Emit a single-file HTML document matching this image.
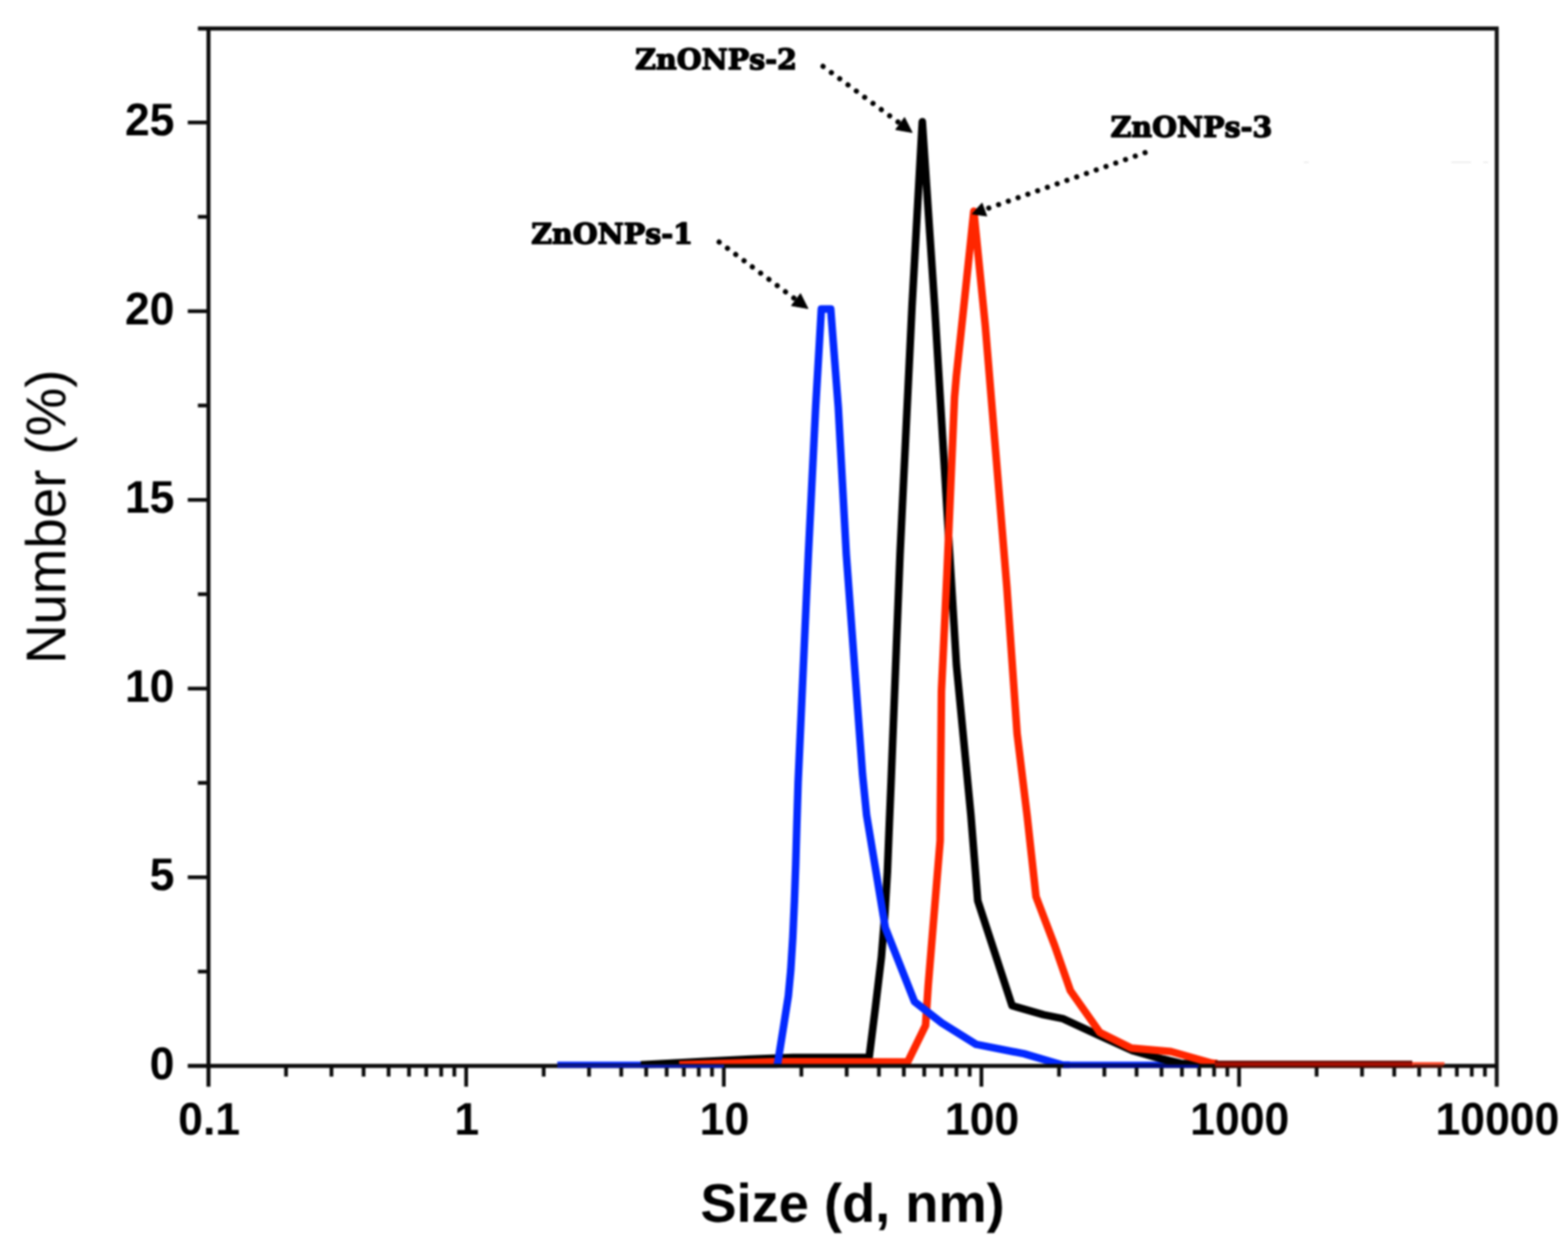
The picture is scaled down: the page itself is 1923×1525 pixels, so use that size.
<!DOCTYPE html>
<html lang="en">
<head>
<meta charset="utf-8">
<title>Particle size distribution of ZnONPs</title>
<style>
  html, body { margin: 0; padding: 0; background: #fff; }
  body { width: 1923px; height: 1525px; overflow: hidden; }
  svg { display: block; }
  svg text { text-rendering: geometricPrecision; }
</style>
</head>
<body>
<svg width="1923" height="1525" viewBox="0 0 1923 1525" role="img" aria-label="Particle size distribution by number for ZnONPs-1, ZnONPs-2 and ZnONPs-3">
<defs>
  <filter id="soft" x="-2%" y="-2%" width="104%" height="104%" color-interpolation-filters="sRGB">
    <feGaussianBlur stdDeviation="0.95"/>
  </filter>
</defs>
<rect x="0" y="0" width="1923" height="1525" fill="#ffffff"/>
<g filter="url(#soft)">
<clipPath id="plotclip"><rect x="0" y="0" width="1923" height="1310.25"/></clipPath>
<g id="curves" clip-path="url(#plotclip)">
<polyline points="683.5,1306.9 953.5,1306.9" fill="none" stroke="#0329ff" stroke-width="8.6" stroke-linejoin="round" stroke-linecap="butt" />
<polyline points="1304.0,1306.9 1470.0,1306.9" fill="none" stroke="#0329ff" stroke-width="8.6" stroke-linejoin="round" stroke-linecap="butt" />
<polyline points="786.0,1306.5 860.0,1302.3 920.0,1299.4 972.5,1297.3 1065.9,1297.3 1073.6,1236.0 1081.0,1174.0 1085.3,1120.0 1088.3,1070.0 1090.7,1010.0 1092.8,960.0 1103.8,680.0 1118.5,376.0 1131.1,149.4 1146.3,376.0 1157.4,560.0 1173.0,816.0 1190.7,1000.0 1199.1,1105.0 1241.2,1233.8 1280.0,1245.0 1303.5,1249.8 1347.2,1270.0 1389.0,1289.0 1426.0,1299.4 1448.0,1304.6 1493.0,1305.0" fill="none" stroke="#000" stroke-width="9.3" stroke-linejoin="round" stroke-linecap="butt" />
<polyline points="833.0,1306.5 950.0,1302.6 1113.1,1303.0 1135.1,1258.1 1138.3,1209.9 1153.0,1031.5 1153.2,1000.0 1154.6,848.0 1161.3,705.0 1170.6,488.0 1172.9,461.0 1182.0,376.0 1194.3,259.2 1208.4,400.0 1234.8,720.0 1247.4,900.0 1259.6,1000.0 1270.6,1100.2 1293.4,1160.0 1312.7,1215.4 1348.8,1266.6 1387.5,1285.9 1436.1,1290.1 1486.5,1304.4 1493.0,1305.0" fill="none" stroke="#ff2600" stroke-width="9.3" stroke-linejoin="round" stroke-linecap="butt" />
<polyline points="952.3,1309.0 953.6,1305.4 961.2,1258.0 966.8,1222.0 969.8,1190.0 972.3,1150.0 974.3,1105.0 975.9,1060.0 977.3,1010.0 978.8,960.0 991.4,680.0 1000.3,500.0 1007.3,379.2 1018.8,379.2 1028.1,500.0 1037.9,680.0 1057.8,950.0 1062.8,1000.0 1085.8,1138.5 1121.5,1228.8 1155.0,1255.0 1197.0,1281.2 1255.8,1292.8 1304.0,1306.9 1312.0,1306.9" fill="none" stroke="#0329ff" stroke-width="9.3" stroke-linejoin="round" stroke-linecap="butt" />
</g>
<g id="axes" stroke="#0b0b0b" fill="none" stroke-linecap="butt">
<line x1="242.7" y1="35.0" x2="1838.0" y2="35.0" stroke-width="4.9"/>
<line x1="255.7" y1="35.0" x2="255.7" y2="1333.2" stroke-width="4.9"/>
<line x1="1835.6" y1="35.0" x2="1835.6" y2="1333.2" stroke-width="4.9" stroke="#161616"/>
<line x1="230.3" y1="1307.8" x2="1835.6" y2="1307.8" stroke-width="4.9"/>
<line x1="230.3" y1="1076.3" x2="255.7" y2="1076.3" stroke-width="4.6"/>
<line x1="230.3" y1="844.8" x2="255.7" y2="844.8" stroke-width="4.6"/>
<line x1="230.3" y1="613.3" x2="255.7" y2="613.3" stroke-width="4.6"/>
<line x1="230.3" y1="381.8" x2="255.7" y2="381.8" stroke-width="4.6"/>
<line x1="230.3" y1="150.3" x2="255.7" y2="150.3" stroke-width="4.6"/>
<line x1="242.7" y1="1192.0" x2="255.7" y2="1192.0" stroke-width="4.6"/>
<line x1="242.7" y1="960.5" x2="255.7" y2="960.5" stroke-width="4.6"/>
<line x1="242.7" y1="729.0" x2="255.7" y2="729.0" stroke-width="4.6"/>
<line x1="242.7" y1="497.5" x2="255.7" y2="497.5" stroke-width="4.6"/>
<line x1="242.7" y1="266.0" x2="255.7" y2="266.0" stroke-width="4.6"/>
<line x1="350.8" y1="1307.8" x2="350.8" y2="1320.8" stroke-width="4.6"/>
<line x1="406.5" y1="1307.8" x2="406.5" y2="1320.8" stroke-width="4.6"/>
<line x1="445.9" y1="1307.8" x2="445.9" y2="1320.8" stroke-width="4.6"/>
<line x1="476.6" y1="1307.8" x2="476.6" y2="1320.8" stroke-width="4.6"/>
<line x1="501.6" y1="1307.8" x2="501.6" y2="1320.8" stroke-width="4.6"/>
<line x1="522.7" y1="1307.8" x2="522.7" y2="1320.8" stroke-width="4.6"/>
<line x1="541.1" y1="1307.8" x2="541.1" y2="1320.8" stroke-width="4.6"/>
<line x1="557.2" y1="1307.8" x2="557.2" y2="1320.8" stroke-width="4.6"/>
<line x1="571.7" y1="1307.8" x2="571.7" y2="1333.2" stroke-width="4.6"/>
<line x1="666.8" y1="1307.8" x2="666.8" y2="1320.8" stroke-width="4.6"/>
<line x1="722.4" y1="1307.8" x2="722.4" y2="1320.8" stroke-width="4.6"/>
<line x1="761.9" y1="1307.8" x2="761.9" y2="1320.8" stroke-width="4.6"/>
<line x1="792.5" y1="1307.8" x2="792.5" y2="1320.8" stroke-width="4.6"/>
<line x1="817.6" y1="1307.8" x2="817.6" y2="1320.8" stroke-width="4.6"/>
<line x1="838.7" y1="1307.8" x2="838.7" y2="1320.8" stroke-width="4.6"/>
<line x1="857.0" y1="1307.8" x2="857.0" y2="1320.8" stroke-width="4.6"/>
<line x1="873.2" y1="1307.8" x2="873.2" y2="1320.8" stroke-width="4.6"/>
<line x1="887.7" y1="1307.8" x2="887.7" y2="1333.2" stroke-width="4.6"/>
<line x1="982.8" y1="1307.8" x2="982.8" y2="1320.8" stroke-width="4.6"/>
<line x1="1038.4" y1="1307.8" x2="1038.4" y2="1320.8" stroke-width="4.6"/>
<line x1="1077.9" y1="1307.8" x2="1077.9" y2="1320.8" stroke-width="4.6"/>
<line x1="1108.5" y1="1307.8" x2="1108.5" y2="1320.8" stroke-width="4.6"/>
<line x1="1133.5" y1="1307.8" x2="1133.5" y2="1320.8" stroke-width="4.6"/>
<line x1="1154.7" y1="1307.8" x2="1154.7" y2="1320.8" stroke-width="4.6"/>
<line x1="1173.0" y1="1307.8" x2="1173.0" y2="1320.8" stroke-width="4.6"/>
<line x1="1189.2" y1="1307.8" x2="1189.2" y2="1320.8" stroke-width="4.6"/>
<line x1="1203.6" y1="1307.8" x2="1203.6" y2="1333.2" stroke-width="4.6"/>
<line x1="1298.8" y1="1307.8" x2="1298.8" y2="1320.8" stroke-width="4.6"/>
<line x1="1354.4" y1="1307.8" x2="1354.4" y2="1320.8" stroke-width="4.6"/>
<line x1="1393.9" y1="1307.8" x2="1393.9" y2="1320.8" stroke-width="4.6"/>
<line x1="1424.5" y1="1307.8" x2="1424.5" y2="1320.8" stroke-width="4.6"/>
<line x1="1449.5" y1="1307.8" x2="1449.5" y2="1320.8" stroke-width="4.6"/>
<line x1="1470.7" y1="1307.8" x2="1470.7" y2="1320.8" stroke-width="4.6"/>
<line x1="1489.0" y1="1307.8" x2="1489.0" y2="1320.8" stroke-width="4.6"/>
<line x1="1505.2" y1="1307.8" x2="1505.2" y2="1320.8" stroke-width="4.6"/>
<line x1="1519.6" y1="1307.8" x2="1519.6" y2="1333.2" stroke-width="4.6"/>
<line x1="1614.7" y1="1307.8" x2="1614.7" y2="1320.8" stroke-width="4.6"/>
<line x1="1670.4" y1="1307.8" x2="1670.4" y2="1320.8" stroke-width="4.6"/>
<line x1="1709.9" y1="1307.8" x2="1709.9" y2="1320.8" stroke-width="4.6"/>
<line x1="1740.5" y1="1307.8" x2="1740.5" y2="1320.8" stroke-width="4.6"/>
<line x1="1765.5" y1="1307.8" x2="1765.5" y2="1320.8" stroke-width="4.6"/>
<line x1="1786.7" y1="1307.8" x2="1786.7" y2="1320.8" stroke-width="4.6"/>
<line x1="1805.0" y1="1307.8" x2="1805.0" y2="1320.8" stroke-width="4.6"/>
<line x1="1821.1" y1="1307.8" x2="1821.1" y2="1320.8" stroke-width="4.6"/>
</g>
<g id="zero-overlays" fill="none">
<line x1="683.5" y1="1308.1" x2="888" y2="1308.1" stroke="#0a18a0" stroke-width="3.6"/>
<line x1="1304" y1="1308.1" x2="1470" y2="1308.1" stroke="#000a86" stroke-width="3.6"/>
<line x1="1490" y1="1302.7" x2="1732" y2="1302.7" stroke="#6a0b05" stroke-width="2.7"/>
<line x1="1490" y1="1305.8" x2="1734" y2="1305.8" stroke="#aa0e01" stroke-width="4.3"/>
<line x1="1490" y1="1309.0" x2="1734" y2="1309.0" stroke="#470903" stroke-width="2.3"/>
<line x1="1732" y1="1304.8" x2="1771.5" y2="1304.8" stroke="#ff5032" stroke-width="3.6"/>
<line x1="1734" y1="1308.2" x2="1770" y2="1308.2" stroke="#5e1206" stroke-width="3.2"/>
</g>
<g id="ticklabels" font-family="'Liberation Sans', Arial, Helvetica, sans-serif" font-weight="bold" font-size="55.5px" fill="#000">
<text transform="translate(214.0,1323.6) scale(0.985,1.012)" text-anchor="end">0</text>
<text transform="translate(214.0,1092.1) scale(0.985,1.012)" text-anchor="end">5</text>
<text transform="translate(214.0,860.6) scale(0.985,1.012)" text-anchor="end">10</text>
<text transform="translate(214.0,629.1) scale(0.985,1.012)" text-anchor="end">15</text>
<text transform="translate(214.0,397.6) scale(0.985,1.012)" text-anchor="end">20</text>
<text transform="translate(214.0,166.1) scale(0.985,1.012)" text-anchor="end">25</text>
<text transform="translate(256.5,1391.9) scale(0.985,1.012)" text-anchor="middle">0.1</text>
<text transform="translate(572.5,1391.9) scale(0.985,1.012)" text-anchor="middle">1</text>
<text transform="translate(888.5,1391.9) scale(0.985,1.012)" text-anchor="middle">10</text>
<text transform="translate(1204.4,1391.9) scale(0.985,1.012)" text-anchor="middle">100</text>
<text transform="translate(1520.4,1391.9) scale(0.985,1.012)" text-anchor="middle">1000</text>
<text transform="translate(1836.4,1391.9) scale(0.985,1.012)" text-anchor="middle">10000</text>
</g>
<text id="ytitle" transform="translate(79.6,634) rotate(-90) scale(1,1.025)" text-anchor="middle" font-family="'Liberation Sans', Arial, Helvetica, sans-serif" font-size="67px" fill="#000">Number (%)</text>
<text id="xtitle" x="1045.6" y="1498.7" text-anchor="middle" font-family="'Liberation Sans', Arial, Helvetica, sans-serif" font-weight="bold" font-size="66.5px" fill="#000">Size (d, nm)</text>
<g id="annotations">
<line x1="882.0" y1="297.0" x2="979.9" y2="370.4" stroke="#000" stroke-width="6.4" stroke-linecap="round" stroke-dasharray="0.01 12.7"/><polygon points="990.7,378.5 970.9,374.9 981.7,360.5" fill="#000" stroke="#000" stroke-width="1.2" stroke-linejoin="round"/>
<line x1="1009.4" y1="81.5" x2="1107.7" y2="154.4" stroke="#000" stroke-width="6.4" stroke-linecap="round" stroke-dasharray="0.01 12.7"/><polygon points="1118.5,162.4 1098.7,158.9 1109.4,144.4" fill="#000" stroke="#000" stroke-width="1.2" stroke-linejoin="round"/>
<line x1="1404.3" y1="187.2" x2="1203.6" y2="258.5" stroke="#000" stroke-width="6.4" stroke-linecap="round" stroke-dasharray="0.01 12.7"/><polygon points="1192.6,262.4 1204.4,249.4 1210.0,265.0" fill="#000" stroke="#000" stroke-width="1.2" stroke-linejoin="round"/>
<text x="651.6" y="299.3" font-family="'DejaVu Serif', 'Liberation Serif', serif" font-weight="bold" font-size="34.9px" textLength="198.2" lengthAdjust="spacingAndGlyphs" fill="#000" stroke="#000" stroke-width="1.7" stroke-linejoin="round">ZnONPs-1</text>
<text x="779.1" y="84.7" font-family="'DejaVu Serif', 'Liberation Serif', serif" font-weight="bold" font-size="34.9px" textLength="198.2" lengthAdjust="spacingAndGlyphs" fill="#000" stroke="#000" stroke-width="1.7" stroke-linejoin="round">ZnONPs-2</text>
<text x="1362.1" y="167.6" font-family="'DejaVu Serif', 'Liberation Serif', serif" font-weight="bold" font-size="34.9px" textLength="198.2" lengthAdjust="spacingAndGlyphs" fill="#000" stroke="#000" stroke-width="1.7" stroke-linejoin="round">ZnONPs-3</text>
</g>
<g id="specks" stroke="#e9e9e9" stroke-width="1.6"><line x1="1599" y1="199.2" x2="1605" y2="199.2"/><line x1="1780" y1="199.2" x2="1804" y2="199.2"/><line x1="1819" y1="199.2" x2="1825" y2="199.2"/></g>
</g>
</svg>
</body>
</html>
